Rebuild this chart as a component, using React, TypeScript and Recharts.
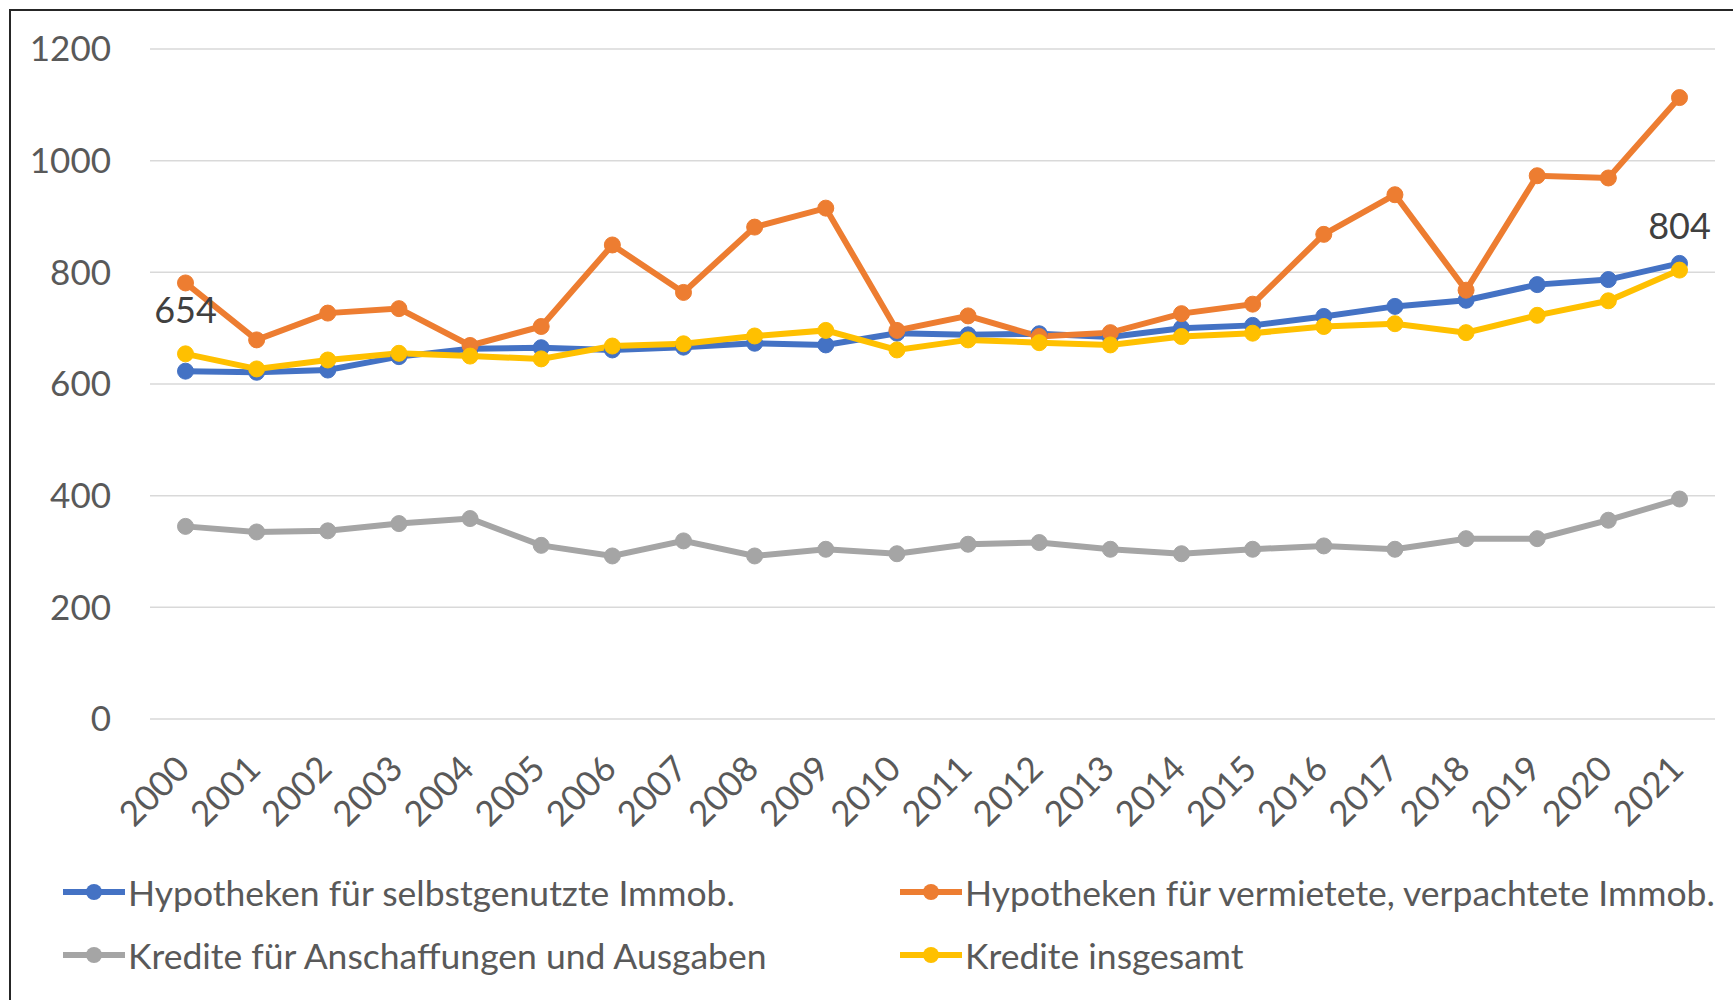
import React from 'react';
import { LineChart, Line, XAxis, YAxis, CartesianGrid, Legend, LabelList } from 'recharts';

// Jahre
const years = [
  '2000', '2001', '2002', '2003', '2004', '2005', '2006', '2007', '2008', '2009', '2010',
  '2011', '2012', '2013', '2014', '2015', '2016', '2017', '2018', '2019', '2020', '2021',
];

// Hypotheken für selbstgenutzte Immob.
const selbstgenutzt = [623, 621, 625, 649, 663, 665, 661, 666, 673, 670, 691, 688, 690, 684, 700, 705, 721, 739, 750, 778, 787, 816];
// Hypotheken für vermietete, verpachtete Immob.
const vermietet = [781, 679, 727, 735, 669, 703, 849, 764, 881, 915, 696, 722, 685, 692, 726, 743, 868, 939, 768, 973, 969, 1113];
// Kredite für Anschaffungen und Ausgaben
const anschaffungen = [345, 335, 337, 350, 359, 311, 292, 319, 292, 304, 296, 313, 316, 304, 296, 304, 310, 304, 323, 323, 356, 394];
// Kredite insgesamt
const insgesamt = [654, 627, 643, 655, 650, 645, 668, 672, 686, 696, 661, 679, 674, 670, 685, 691, 703, 708, 692, 723, 749, 804];

const yTicks = [0, 200, 400, 600, 800, 1000, 1200];

const data = years.map((year, i) => ({
  year,
  selbst: selbstgenutzt[i],
  vermietet: vermietet[i],
  anschaffungen: anschaffungen[i],
  insgesamt: insgesamt[i],
}));

const FONT = 'Lato, "Open Sans", sans-serif';
const TEXT = '#595959';

const series = [
  { key: 'selbst', name: 'Hypotheken für selbstgenutzte Immob.', color: '#4472C4' },
  { key: 'vermietet', name: 'Hypotheken für vermietete, verpachtete Immob.', color: '#ED7D31' },
  { key: 'anschaffungen', name: 'Kredite für Anschaffungen und Ausgaben', color: '#A5A5A5' },
  { key: 'insgesamt', name: 'Kredite insgesamt', color: '#FFC000' },
];

const YearTick = (props: any) => {
  const { x, y, payload } = props;
  const tx = x + 6;
  const ty = y + 52;
  return (
    <text
      x={tx}
      y={ty}
      transform={`rotate(-45, ${tx}, ${ty})`}
      textAnchor="end"
      fill={TEXT}
      fontSize={35}
      fontFamily={FONT}
    >
      {payload.value}
    </text>
  );
};

const EndLabel = (props: any) => {
  const { x, y, value, index } = props;
  if (index !== 0 && index !== years.length - 1) return null;
  return (
    <text x={x} y={y - 31} textAnchor="middle" fill="#404040" fontSize={36} fontFamily={FONT}>
      {value}
    </text>
  );
};

const legendPos = [
  { left: 63, top: 892 },
  { left: 900, top: 892 },
  { left: 63, top: 955 },
  { left: 900, top: 955 },
];

const renderLegend = () => (
  <div style={{ position: 'relative', width: 1733, height: 1000 }}>
    {series.map((s, i) => (
      <div
        key={s.key}
        style={{
          position: 'absolute',
          left: legendPos[i].left,
          top: legendPos[i].top - 25,
          height: 50,
          display: 'flex',
          alignItems: 'center',
          whiteSpace: 'nowrap',
        }}
      >
        <svg width={62} height={20} style={{ marginRight: 3 }}>
          <line x1={0} y1={10} x2={62} y2={10} stroke={s.color} strokeWidth={6} />
          <circle cx={31} cy={10} r={8} fill={s.color} />
        </svg>
        <span style={{ fontFamily: FONT, fontSize: 35.5, color: TEXT }}>{s.name}</span>
      </div>
    ))}
  </div>
);

export default function App() {
  return (
    <div
      style={{
        position: 'fixed',
        left: 0,
        top: 0,
        width: 1733,
        height: 1000,
        overflow: 'hidden',
        background: '#ffffff',
      }}
    >
      <div
        style={{
          position: 'absolute',
          left: 9,
          top: 9,
          width: 1724,
          height: 991,
          boxSizing: 'border-box',
          borderLeft: '2px solid #262626',
          borderTop: '2px solid #262626',
        }}
      />
      <div style={{ position: 'absolute', left: 0, top: 0 }}>
        <LineChart width={1733} height={1000} data={data} margin={{ top: 49, right: 18, left: 10, bottom: 0 }}>
          <CartesianGrid horizontal vertical={false} stroke="#d9d9d9" strokeWidth={1.5} />
          <XAxis
            dataKey="year"
            axisLine={false}
            tickLine={false}
            tickSize={0}
            tickMargin={0}
            height={281}
            interval={0}
            padding={{ left: 35.5, right: 35.5 }}
            tick={<YearTick />}
          />
          <YAxis
            domain={[0, 1200]}
            ticks={yTicks}
            axisLine={false}
            tickLine={false}
            tickSize={0}
            tickMargin={39}
            width={140}
            tick={{ fill: TEXT, fontSize: 35, fontFamily: FONT }}
          />
          <Legend
            layout="horizontal"
            verticalAlign="middle"
            align="center"
            wrapperStyle={{ left: 0, top: 0, width: 1733, height: 1000, pointerEvents: 'none' }}
            content={renderLegend}
          />
          {series.map((s) => (
            <Line
              key={s.key}
              type="linear"
              dataKey={s.key}
              name={s.name}
              stroke={s.color}
              strokeWidth={6}
              dot={{ r: 8, fill: s.color, stroke: s.color, strokeWidth: 1 }}
              activeDot={false}
              isAnimationActive={false}
            >
              {s.key === 'insgesamt' && <LabelList dataKey="insgesamt" content={<EndLabel />} />}
            </Line>
          ))}
        </LineChart>
      </div>
    </div>
  );
}
